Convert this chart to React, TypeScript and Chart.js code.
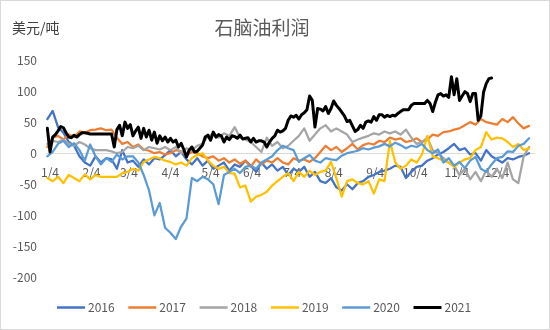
import React, { useEffect, useRef } from "react";
import { Chart, registerables } from "chart.js";

Chart.register(...registerables);

// ---- data ----
const TITLE = "石脑油利润";
const UNIT = "美元/吨";
const YEARS = ["2016", "2017", "2018", "2019", "2020", "2021"];
const COLORS = ["#4472C4", "#ED7D31", "#A5A5A5", "#FFC000", "#5B9BD5", "#000000"];

// day of year of the first sample and spacing between samples (days), per series
const FIRST_DAY = 2;
const DAY_STEPS = [4, 4, 4, 4, 4, 2];

const TICK_DAYS = [4, 35, 63, 94, 124, 155, 185, 216, 247, 277, 308, 338];
const TICK_LABELS = ["1/4", "2/4", "3/4", "4/4", "5/4", "6/4", "7/4", "8/4", "9/4", "10/4", "11/4", "12/4"];

const V2016 = [
  55, 68, 42, 33, 18, 12, -5, -15, -20, -5,
  -15, -8, -10, -25, 5, -15, -12, -22, -10, -18,
  -8, -10, -3, 5, -5, 2, -10, -18, -8, -20,
  -12, -25, -20, -15, -28, -18, -22, -12, -20, -30,
  -15, -25, -18, -28, -22, -35, -25, -30, -22, -38,
  -30, -45, -48, -40, -55, -60, -50, -58, -48, -45,
  -38, -35, -30, -28, -25, -20, -22, -40, -30, -22,
  -20, -12, -8, -2, 2, 8, 15, 5, 8, -2,
  0, -12, 5, -5, -10, -15, -8, -10, -6, -4, 0,
];
const V2017 = [
  10, 25, 28, 22, 30, 26, 35, 33, 37, 38,
  40, 37, 38, 25, 15, 18, 10, 14, 6, 4,
  0, 2, -2, 0, 5, 3, -3, 2, 0, -5,
  -8, -5, -12, -8, -15, -10, -17, -12, -22, -10,
  -18, -12, -15, -8, -15, -18, -8, -12, -10, -14,
  -8, 2, 12, 5, 10, 2, 8, 15, 6, 13,
  16, 14, 20, 18, 25, 22, 24, 18, 20, 24,
  18, 22, 30, 28, 34, 35, 38, 40, 45, 50,
  46, 55, 50, 48, 46, 55, 50, 58, 48, 40, 44,
];
const V2018 = [
  15, 20, 18, 22, 15, 12, 18, 14, 8, 5,
  5, 5, 3, 0, 2, 10, 8, 12, 5, 10,
  8, 6, 10, 5, 10, 0, 8, 5, 12, 15,
  28, 30, 25, 32, 28, 42, 25, 22, 18, 10,
  2, 25, 12, 18, 8, 12, 20, 28, 40, 20,
  30, 40, 45, 35, 40, 35, 30, 18, 22, 25,
  28, 32, 30, 35, 32, 35, 30, 38, 25, 15,
  18, 25, 5, 0, -8, -15, -20, -35, -25, -42,
  -30, -45, -28, -38, -25, -40, -15, -42, -48, -5, 10,
];
const V2019 = [
  -40, -45, -38, -48, -35, -40, -45, -34, -42, -35,
  -38, -38, -38, -38, -32, -30, -25, -28, -14, -10,
  -6, -8, -12, -14, -18, -15, -20, -8, -3, 0,
  -12, -20, -25, -22, -32, -33, -55, -52, -78, -70,
  -67, -62, -52, -45, -38, -32, -45, -30, -38, -28,
  -35, -30, -28, -14, -40, -70, -45, -42, -48, -50,
  -45, -65, -42, -45, 20, -15, -25, -20, -10, -15,
  -2, 28, -5, -8, -12, -15, -22, -15, -10, -8,
  5, 10, 34, 22, 25, 24, 18, 10, 15, 5, 8,
];
const V2020 = [
  -5, 2, 15, 20, 10, 16, 5, -12, 14, -5,
  -18, -8, -14, -2, -10, -5, -5, -15, -35, -60,
  -100, -80, -120, -128, -138, -118, -105, -40, -45, -38,
  -42, -50, -82, -35, -30, -25, -32, -22, -20, -25,
  -15, -10, -5, 5, 12, 8, 5, -14, -8, -3,
  -12, -15, -8, -10, -11, -4, 0, 2, 4, 8,
  6, 9, 11, 15, 11, 17, 13, 8, 12, 10,
  15, 5, 0, 6, -15, -8, -20, -14, -24, -12,
  -6, -25, -30, -18, -8, -6, 3, 2, 12, 15, 24,
];
const V2021 = [
  40, 2, 26, 30, 36, 43, 41, 33, 26, 25,
  29, 26, 30, 33, 33, 32, 31, 31, 31, 31,
  31, 31, 31, 31, 31, 10, 38, 45, 28, 50,
  40, 46, 28, 36, 42, 24, 40, 26, 37, 21,
  34, 16, 28, 20, 26, 18, 24, 18, 21, 10,
  16, 6, -6, 5, 10, 2, 3, 8, 13, 26,
  29, 21, 34, 26, 30, 28, 18, 26, 22, 28,
  27, 24, 29, 23, 24, 25, 18, 24, 18, 20,
  20, 18, 10, 18, 24, 28, 37, 34, 36, 40,
  53, 60, 58, 61, 55, 62, 65, 70, 92, 85,
  42, 72, 71, 68, 75, 64, 72, 84, 77, 72,
  66, 60, 51, 53, 44, 35, 38, 45, 40, 50,
  52, 50, 59, 53, 62, 62, 58, 61, 59, 61,
  60, 64, 67, 70, 70, 70, 77, 80, 80, 80,
  80, 80, 85, 80, 67, 82, 94, 96, 92, 94,
  90, 123, 94, 120, 85, 92, 99, 96, 83, 96,
  96, 53, 60, 98, 112, 120, 121,
];
const SERIES = [V2016, V2017, V2018, V2019, V2020, V2021];

const Y_MIN = -200;
const Y_MAX = 150;
const Y_STEP = 50;

// ---- styles ----
const FONT = "'Microsoft YaHei', 'Noto Sans CJK SC', sans-serif";
const TEXT = "#595959";

const toPoints = (vals: number[], step: number) =>
  vals.map((v, i) => ({ x: FIRST_DAY + i * step, y: v }));

const decorPlugin = {
  id: "decor",
  beforeDraw(chart: any) {
    const ctx = chart.ctx;
    ctx.save();
    ctx.fillStyle = "#ffffff";
    ctx.fillRect(0, 0, chart.width, chart.height);
    ctx.strokeStyle = "#d9d9d9";
    ctx.lineWidth = 1;
    ctx.strokeRect(0.5, 0.5, chart.width - 1, chart.height - 1);
    ctx.restore();
  },
  afterDraw(chart: any) {
    const ctx = chart.ctx;
    ctx.save();
    ctx.textBaseline = "middle";
    ctx.fillStyle = TEXT;
    ctx.font = `19px ${FONT}`;
    ctx.textAlign = "center";
    ctx.fillText(TITLE, 262, 28);
    ctx.fillStyle = "#404040";
    ctx.font = `14px ${FONT}`;
    ctx.textAlign = "left";
    ctx.fillText(UNIT, 12, 28);
    ctx.font = `12px ${FONT}`;
    const ly = 307.5;
    YEARS.forEach((yr, i) => {
      const x0 = 57 + i * 71.3;
      ctx.strokeStyle = COLORS[i];
      ctx.lineWidth = i === 5 ? 3 : 2.5;
      ctx.beginPath();
      ctx.moveTo(x0, ly);
      ctx.lineTo(x0 + 28, ly);
      ctx.stroke();
      ctx.fillStyle = TEXT;
      ctx.fillText(yr, x0 + 31, ly);
    });
    ctx.restore();
  },
};

export default function App() {
  const ref = useRef<HTMLCanvasElement | null>(null);

  useEffect(() => {
    if (!ref.current) return;
    const chart = new Chart(ref.current, {
      type: "line",
      data: {
        datasets: YEARS.map((yr, i) => ({
          label: yr,
          data: toPoints(SERIES[i], DAY_STEPS[i]),
          borderColor: COLORS[i],
          backgroundColor: COLORS[i],
          borderWidth: i === 5 ? 3 : 2.25,
          pointRadius: 0,
          tension: 0,
          fill: false,
          borderJoinStyle: "round" as const,
          borderCapStyle: "round" as const,
          order: YEARS.length - i,
        })),
      },
      options: {
        animation: false,
        responsive: false,
        layout: { padding: { top: 60, right: 15.6, bottom: 52.5, left: 0 } },
        plugins: {
          legend: { display: false },
          tooltip: { enabled: false },
          title: { display: false },
        },
        scales: {
          x: {
            type: "linear",
            position: { y: 0 } as any,
            min: 1,
            max: 366,
            afterBuildTicks: (s: any) => {
              s.ticks = TICK_DAYS.map((v) => ({ value: v }));
            },
            ticks: {
              autoSkip: false,
              maxRotation: 0,
              padding: 12,
              color: TEXT,
              font: { family: FONT, size: 12 },
              callback: (v: any) => {
                const k = TICK_DAYS.indexOf(Number(v));
                return k >= 0 ? TICK_LABELS[k] : "";
              },
            },
            grid: { display: false, drawTicks: false },
            border: { display: true, color: "#d9d9d9", width: 1 },
          },
          y: {
            min: Y_MIN,
            max: Y_MAX,
            afterFit: (s: any) => {
              s.width = 46;
            },
            ticks: {
              stepSize: Y_STEP,
              padding: 9,
              color: TEXT,
              font: { family: FONT, size: 12 },
            },
            grid: { display: false, drawTicks: false },
            border: { display: false },
          },
        },
      },
      plugins: [decorPlugin],
    });
    return () => chart.destroy();
  }, []);

  return (
    <div style={{ position: "absolute", left: 0, top: 0, width: 550, height: 330 }}>
      <canvas ref={ref} width={550} height={330} style={{ width: 550, height: 330, display: "block" }} />
    </div>
  );
}
